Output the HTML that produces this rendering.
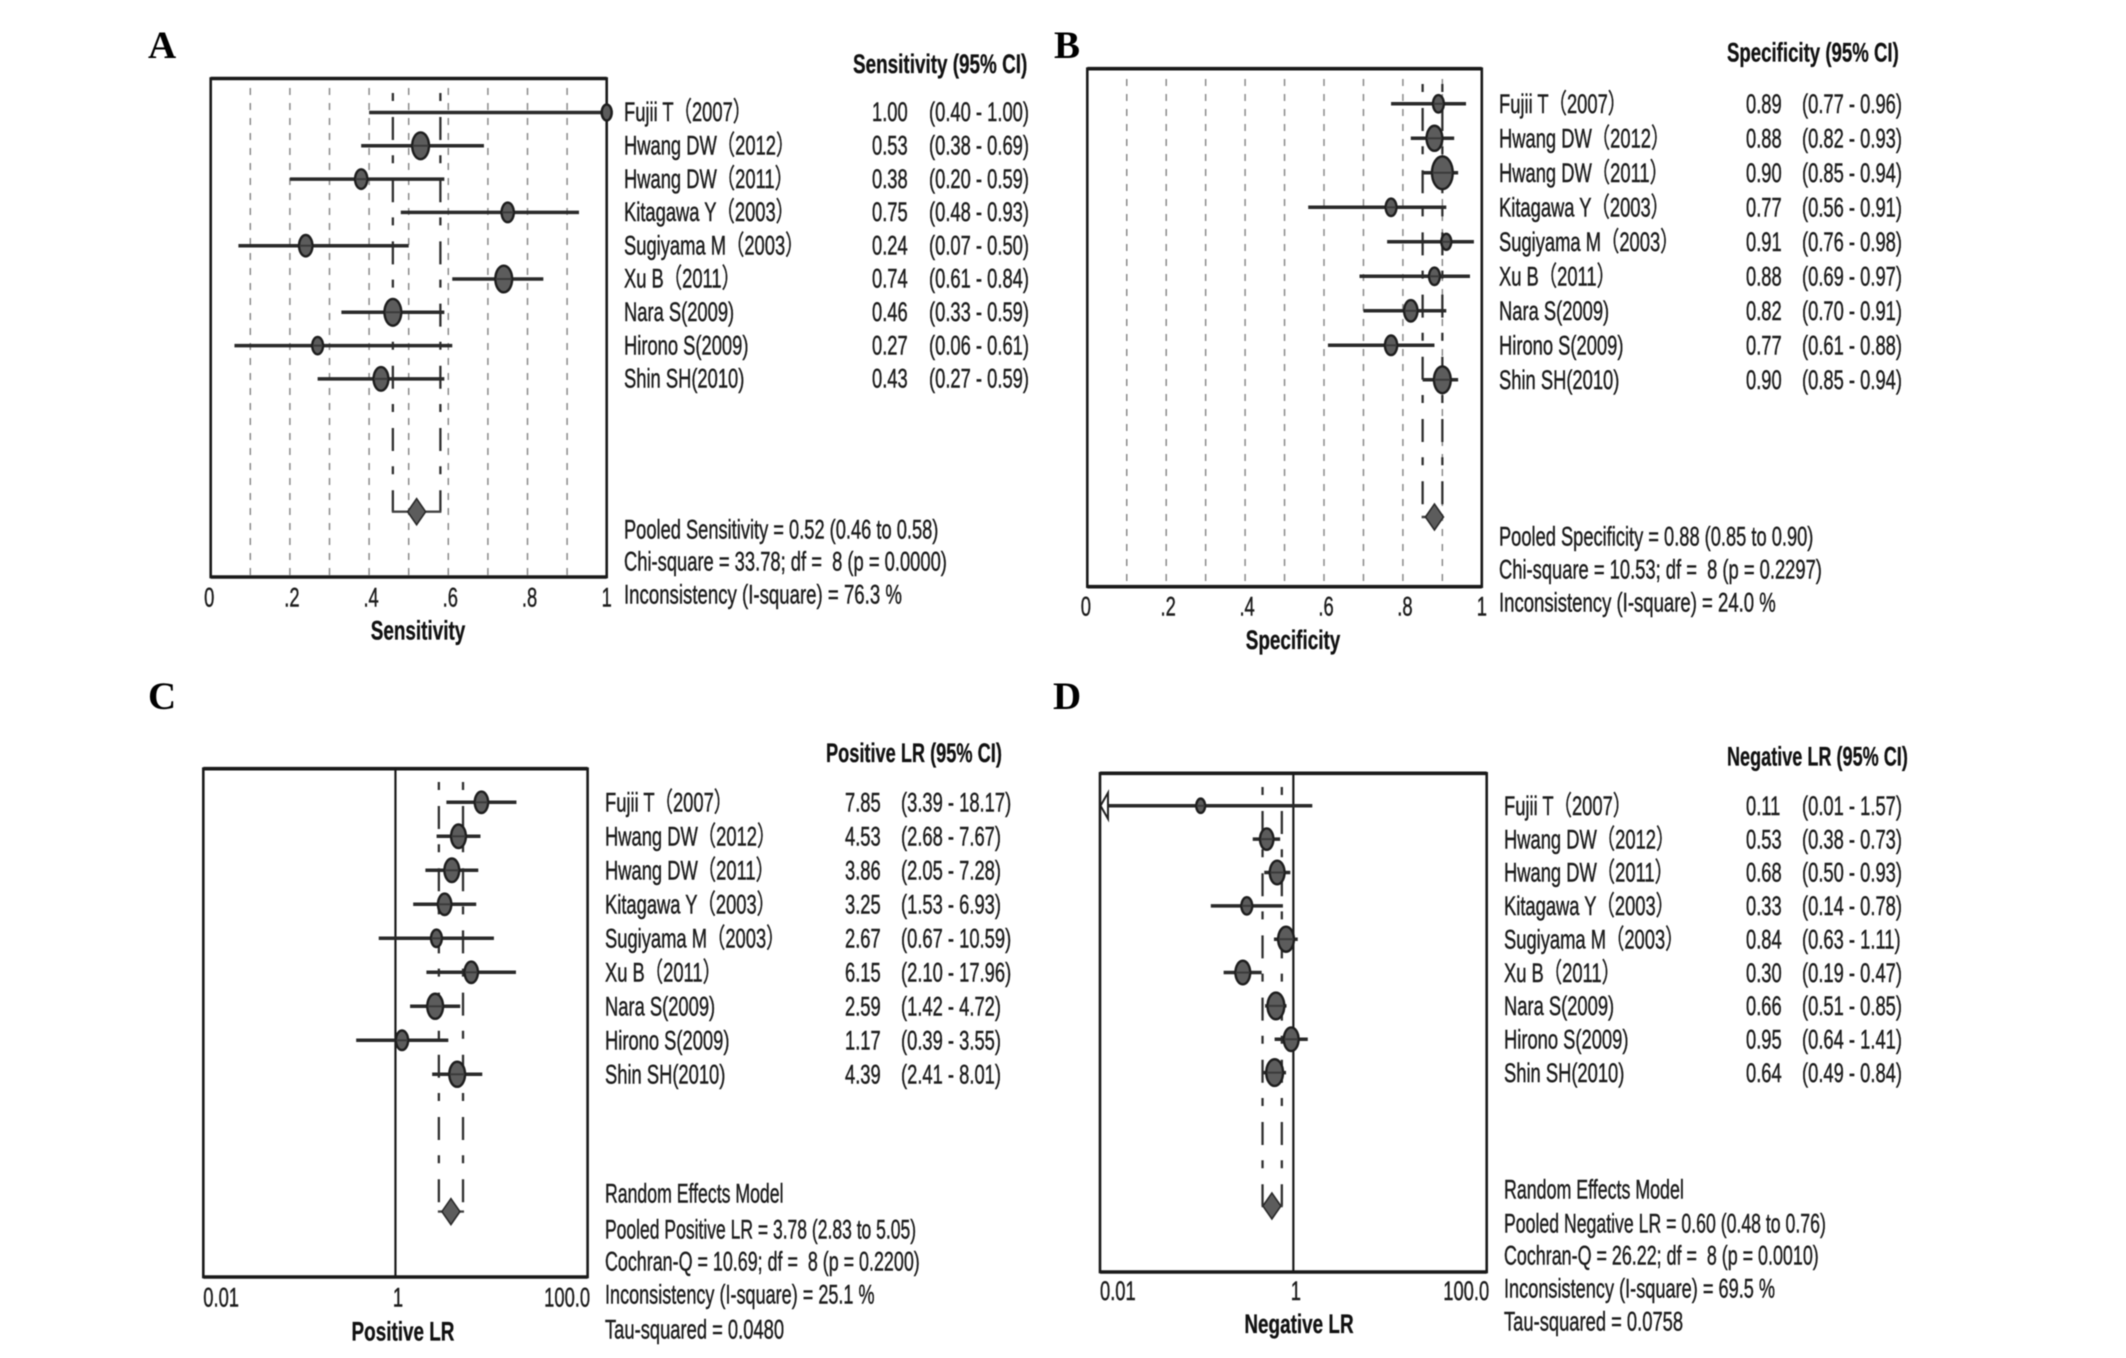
<!DOCTYPE html>
<html lang="en">
<head>
<meta charset="utf-8">
<title>Forest plots of sensitivity, specificity and likelihood ratios</title>
<style>
  html, body { margin: 0; padding: 0; background: #fff; }
  #figure { display: block; width: 2126px; height: 1358px; filter: blur(0.45px); }
  text { font-family: "Liberation Sans", "Noto Sans CJK JP", sans-serif; font-size: 27px; fill: #1c1c1c; stroke: #1c1c1c; stroke-width: .45px; white-space: pre; }
  text.bold { font-weight: bold; fill: #111; stroke: #111; stroke-width: .3px; }
  text.letter { font-family: "Liberation Serif", serif; font-weight: bold; font-size: 39px; fill: #000; stroke: none; }
  .frame { fill: none; stroke: #1a1a1a; stroke-width: 2.6; }
</style>
</head>
<body>
<svg id="figure" xmlns="http://www.w3.org/2000/svg" width="2126" height="1358" viewBox="0 0 2126 1358">
  <rect width="2126" height="1358" fill="#fff"/>

  <text class="letter" x="148" y="58">A</text>
  <text class="letter" x="1054" y="58">B</text>
  <text class="letter" x="148" y="709">C</text>
  <text class="letter" x="1053" y="709">D</text>

  <!-- Panel A -->
  <g id="panel-a">
    <g id="plot-a"></g>
    <text class="bold" transform="translate(853,73) scale(.7,1)">Sensitivity (95% CI)</text>
    <text class="bold" text-anchor="middle" transform="translate(418,639.5) scale(.7,1)">Sensitivity</text>
    <text transform="translate(624,538.5) scale(.677,1)">Pooled Sensitivity = 0.52 (0.46 to 0.58)</text>
    <text transform="translate(624,570.5) scale(.68,1)">Chi-square = 33.78; df =  8 (p = 0.0000)</text>
    <text transform="translate(624,603.5) scale(.69,1)">Inconsistency (I-square) = 76.3 %</text>
  </g>

  <!-- Panel B -->
  <g id="panel-b">
    <g id="plot-b"></g>
    <text class="bold" transform="translate(1727,61.5) scale(.69,1)">Specificity (95% CI)</text>
    <text class="bold" text-anchor="middle" transform="translate(1293,649) scale(.7,1)">Specificity</text>
    <text transform="translate(1499,545.5) scale(.677,1)">Pooled Specificity = 0.88 (0.85 to 0.90)</text>
    <text transform="translate(1499,578.5) scale(.68,1)">Chi-square = 10.53; df =  8 (p = 0.2297)</text>
    <text transform="translate(1499,611.5) scale(.687,1)">Inconsistency (I-square) = 24.0 %</text>
  </g>

  <!-- Panel C -->
  <g id="panel-c">
    <g id="plot-c"></g>
    <text class="bold" transform="translate(826,762) scale(.674,1)">Positive LR (95% CI)</text>
    <text class="bold" text-anchor="middle" transform="translate(403,1340.5) scale(.7,1)">Positive LR</text>
    <text transform="translate(605,1202.5) scale(.655,1)">Random Effects Model</text>
    <text transform="translate(605,1238.5) scale(.649,1)">Pooled Positive LR = 3.78 (2.83 to 5.05)</text>
    <text transform="translate(605,1270.5) scale(.663,1)">Cochran-Q = 10.69; df =  8 (p = 0.2200)</text>
    <text transform="translate(605,1303.5) scale(.669,1)">Inconsistency (I-square) = 25.1 %</text>
    <text transform="translate(605,1338.5) scale(.68,1)">Tau-squared = 0.0480</text>
  </g>

  <!-- Panel D -->
  <g id="panel-d">
    <g id="plot-d"></g>
    <text class="bold" transform="translate(1727,765.5) scale(.67,1)">Negative LR (95% CI)</text>
    <text class="bold" text-anchor="middle" transform="translate(1299,1333) scale(.7,1)">Negative LR</text>
    <text transform="translate(1504,1198.5) scale(.66,1)">Random Effects Model</text>
    <text transform="translate(1504,1232.5) scale(.655,1)">Pooled Negative LR = 0.60 (0.48 to 0.76)</text>
    <text transform="translate(1504,1264.5) scale(.663,1)">Cochran-Q = 26.22; df =  8 (p = 0.0010)</text>
    <text transform="translate(1504,1297.5) scale(.673,1)">Inconsistency (I-square) = 69.5 %</text>
    <text transform="translate(1504,1330.5) scale(.68,1)">Tau-squared = 0.0758</text>
  </g>
</svg>

<script>
// ---- Data ----
const studies = ['Fujii T（2007）','Hwang DW（2012）','Hwang DW（2011）','Kitagawa Y（2003）','Sugiyama M（2003）','Xu B（2011）','Nara S(2009)','Hirono S(2009)','Shin SH(2010)'];

const sensEst = [1.00,0.53,0.38,0.75,0.24,0.74,0.46,0.27,0.43];
const sensLo  = [0.40,0.38,0.20,0.48,0.07,0.61,0.33,0.06,0.27];
const sensHi  = [1.00,0.69,0.59,0.93,0.50,0.84,0.59,0.61,0.59];
const sensWeight = [3.4,9,5,5,5.9,9,9,4,7.1];
const sensPooled = [0.52,0.46,0.58];

const specEst = [0.89,0.88,0.90,0.77,0.91,0.88,0.82,0.77,0.90];
const specLo  = [0.77,0.82,0.85,0.56,0.76,0.69,0.70,0.61,0.85];
const specHi  = [0.96,0.93,0.94,0.91,0.98,0.97,0.91,0.88,0.94];
const specWeight = [4,8,13.4,4,3.4,4,5.9,5,9];
const specPooled = [0.88,0.85,0.90];

const plrEst = [7.85,4.53,3.86,3.25,2.67,6.15,2.59,1.17,4.39];
const plrLo  = [3.39,2.68,2.05,1.53,0.67,2.10,1.42,0.39,2.41];
const plrHi  = [18.17,7.67,7.28,6.93,10.59,17.96,4.72,3.55,8.01];
const plrWeight = [5.9,7.1,7.1,5.9,4,5.9,8,5,8];
const plrPooled = [3.78,2.83,5.05];

const nlrEst = [0.11,0.53,0.68,0.33,0.84,0.30,0.66,0.95,0.64];
const nlrLo  = [0.01,0.38,0.50,0.14,0.63,0.19,0.51,0.64,0.49];
const nlrHi  = [1.57,0.73,0.93,0.78,1.11,0.47,0.85,1.41,0.84];
const nlrWeight = [2.8,5.9,7.1,4,8,7.1,9,7.1,9];
const nlrPooled = [0.60,0.48,0.76];

const linearTickValues = [0,0.2,0.4,0.6,0.8,1];
const linearTickLabels = ['0','.2','.4','.6','.8','1'];
const linearGridValues = [0.1,0.2,0.3,0.4,0.5,0.6,0.7,0.8,0.9];
const logTickValues = [0.01,1,100];
const logTickLabels = ['0.01','1','100.0'];

// ---- Drawing ----
const NS = 'http://www.w3.org/2000/svg';
const TEXT_SX = 0.68;

function linearAxis(left, right) {
  return v => left + v * (right - left);
}
function logAxis(left, right) {
  return v => left + (Math.log10(v) + 2) / 4 * (right - left);
}
function drawLine(parent, x1, y1, x2, y2, color, width, dash) {
  const el = document.createElementNS(NS, 'line');
  el.setAttribute('x1', x1);
  el.setAttribute('y1', y1);
  el.setAttribute('x2', x2);
  el.setAttribute('y2', y2);
  el.setAttribute('stroke', color);
  el.setAttribute('stroke-width', width);
  if (dash) el.setAttribute('stroke-dasharray', dash);
  parent.appendChild(el);
  return el;
}
function drawText(parent, x, y, str, anchor) {
  const el = document.createElementNS(NS, 'text');
  el.setAttribute('transform', 'translate(' + x + ',' + y + ') scale(' + TEXT_SX + ',1)');
  el.setAttribute('text-anchor', anchor || 'start');
  el.textContent = str;
  parent.appendChild(el);
  return el;
}

function drawPanel(p) {
  const g = document.getElementById(p.id);
  const x = p.log ? logAxis(p.L, p.R) : linearAxis(p.L, p.R);
  const rowY = i => p.first + i * p.step;
  const domainMin = p.log ? 0.01 : 0;

  // reference lines
  if (p.log) {
    const ref = drawLine(g, x(1), p.T, x(1), p.B, '#1a1a1a', 2.2);
    
    
  } else {
    linearGridValues.forEach(v => {
      const grid = drawLine(g, x(v), p.dashTop - 5, x(v), p.B, '#8a8a8a', 1.5, '7 8');
      
      
    });
  }

  // pooled CI dashed lines and bracket
  [p.pooled[1], p.pooled[2]].forEach(v => {
    const pl = drawLine(g, x(v), p.dashTop, x(v), p.pooledY, '#303030', 2.3, '8 16 23 15.2');
    
    
  });
  const bracket = drawLine(g, x(p.pooled[1]) - 1, p.pooledY, x(p.pooled[2]) + 1, p.pooledY, '#444', 2.4);
  
  

  // studies
  studies.forEach((name, i) => {
    const y = rowY(i);
    const ciLeft = p.lo[i] <= domainMin ? x(domainMin) + 8 : x(p.lo[i]);
    const ci = drawLine(g, ciLeft, y, x(p.hi[i]), y, '#2a2a2a', 3.5);
    
    

    if (p.lo[i] <= domainMin) {
      const arrow = document.createElementNS(NS, 'polygon');
      arrow.setAttribute('points', [x(domainMin) + 0.5, y, x(domainMin) + 8, y - 13, x(domainMin) + 8, y + 13].join(','));
      arrow.setAttribute('fill', '#fff');
      arrow.setAttribute('stroke', '#222');
      arrow.setAttribute('stroke-width', 2);
      
      
      g.appendChild(arrow);
    }

    const rx = 3 * Math.sqrt(p.weight[i]);
    const mark = document.createElementNS(NS, 'ellipse');
    mark.setAttribute('cx', x(p.est[i]));
    mark.setAttribute('cy', y);
    mark.setAttribute('rx', rx - 0.6);
    mark.setAttribute('ry', rx * 1.55 - 0.6);
    mark.setAttribute('fill', '#5c5c5c');
    mark.setAttribute('stroke', '#1e1e1e');
    mark.setAttribute('stroke-width', 2.4);
    
    
    g.appendChild(mark);

    const bar = drawLine(g, x(p.est[i]) - rx + 1, y, x(p.est[i]) + rx - 1, y, '#3a3a3a', 2);
    
    

    const label = drawText(g, p.labelX, y + p.textDy, name);
    
    

    const val = drawText(g, p.valX, y + p.textDy, p.est[i].toFixed(2));
    
    

    const ciText = drawText(g, p.ciX, y + p.textDy, '(' + p.lo[i].toFixed(2) + ' - ' + p.hi[i].toFixed(2) + ')');
    
    
  });

  // pooled diamond
  const px = x(p.pooled[0]);
  const diamond = document.createElementNS(NS, 'polygon');
  diamond.setAttribute('points', [px - 9, p.pooledY, px, p.pooledY - 13, px + 9, p.pooledY, px, p.pooledY + 13].join(','));
  diamond.setAttribute('fill', '#5c5c5c');
  diamond.setAttribute('stroke', '#2a2a2a');
  diamond.setAttribute('stroke-width', 1.6);
  
  
  g.appendChild(diamond);

  // frame
  const frame = document.createElementNS(NS, 'rect');
  frame.setAttribute('class', 'frame');
  frame.setAttribute('x', p.L);
  frame.setAttribute('y', p.T);
  frame.setAttribute('width', p.R - p.L);
  frame.setAttribute('height', p.B - p.T);
  
  
  g.appendChild(frame);
  [p.T, p.B].forEach(yy => {
    const edge = drawLine(g, p.L, yy, p.R, yy, '#1a1a1a', 3.6);
    
    
  });

  // keep a point that sits on the frame on top of it
  studies.forEach((name, i) => {
    if (!p.log && p.est[i] >= 1) {
      const rx = 3 * Math.sqrt(p.weight[i]);
      const edgeMark = document.createElementNS(NS, 'ellipse');
      edgeMark.setAttribute('cx', x(p.est[i]));
      edgeMark.setAttribute('cy', rowY(i));
      edgeMark.setAttribute('rx', rx - 0.6);
      edgeMark.setAttribute('ry', rx * 1.55 - 0.6);
      edgeMark.setAttribute('fill', '#5c5c5c');
      edgeMark.setAttribute('stroke', '#1e1e1e');
      edgeMark.setAttribute('stroke-width', 2.4);
      
      
      g.appendChild(edgeMark);
    }
  });

  // ticks
  p.tickValues.forEach((v, i) => {
    let anchor = 'middle', dx = 2;
    if (p.log) {
      anchor = i === 0 ? 'start' : (i === p.tickValues.length - 1 ? 'end' : 'middle');
      dx = i === 0 ? 0 : 2.5;
    } else if (i === 0) {
      dx = -1.5;
    } else if (i === p.tickValues.length - 1) {
      dx = 0;
    }
    const tick = drawText(g, x(v) + dx, p.tickY, p.tickLabels[i], anchor);
    
    
  });
}

drawPanel({ id:'plot-a', log:false, est:sensEst, lo:sensLo, hi:sensHi, weight:sensWeight, pooled:sensPooled,
  tickValues:linearTickValues, tickLabels:linearTickLabels,
  L:210.7, R:606.7, T:78.5, B:577, first:112.5, step:33.3, pooledY:511.7, dashTop:93,
  labelX:624, valX:872, ciX:929, tickY:606.5, textDy:8.7 });
drawPanel({ id:'plot-b', log:false, est:specEst, lo:specLo, hi:specHi, weight:specWeight, pooled:specPooled,
  tickValues:linearTickValues, tickLabels:linearTickLabels,
  L:1087.3, R:1481.8, T:68.7, B:586.7, first:103.8, step:34.5, pooledY:517, dashTop:84,
  labelX:1499, valX:1746, ciX:1802, tickY:615.5, textDy:9 });
drawPanel({ id:'plot-c', log:true, est:plrEst, lo:plrLo, hi:plrHi, weight:plrWeight, pooled:plrPooled,
  tickValues:logTickValues, tickLabels:logTickLabels,
  L:203.3, R:587.6, T:768.7, B:1277, first:802.3, step:34, pooledY:1211.6, dashTop:782,
  labelX:605, valX:845, ciX:901, tickY:1306.5, textDy:9.2 });
drawPanel({ id:'plot-d', log:true, est:nlrEst, lo:nlrLo, hi:nlrHi, weight:nlrWeight, pooled:nlrPooled,
  tickValues:logTickValues, tickLabels:logTickLabels,
  L:1100, R:1486.7, T:773.3, B:1272, first:805.8, step:33.35, pooledY:1206, dashTop:787,
  labelX:1504, valX:1746, ciX:1802, tickY:1300, textDy:9.2 });
</script>
</body>
</html>
